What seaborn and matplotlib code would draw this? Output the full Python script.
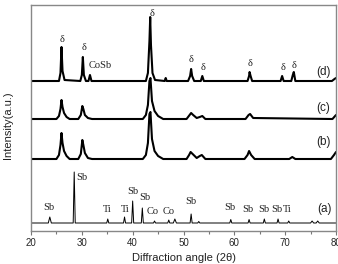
import matplotlib
matplotlib.use("Agg")
import matplotlib.pyplot as plt
from matplotlib.ticker import MultipleLocator
import seaborn as sns
import pandas as pd

# XRD patterns, stacked with offsets (a.u.)
a_x = [20, 23.4, 23.7, 24.0, 28.3, 28.5, 28.7, 34.9, 35.1, 35.3, 38.2, 38.4, 38.6,
       39.8, 40.0, 40.2, 41.7, 41.9, 42.1, 44.1, 44.3, 44.5, 46.9, 47.1, 47.3,
       48.0, 48.3, 48.6, 51.3, 51.5, 51.7, 52.8, 53.0, 53.2, 59.1, 59.3, 59.5,
       62.7, 62.9, 63.1, 65.7, 65.9, 66.1, 68.4, 68.6, 68.8, 70.5, 70.7, 70.9,
       75.0, 75.3, 75.6, 76.1, 76.4, 76.7, 80]
a_y = [8, 8, 14, 8, 8, 59, 8, 8, 12, 8, 8, 14, 8,
       8, 30, 8, 8, 23, 8, 8, 10, 8, 8, 11, 8,
       8, 12, 8, 8, 17, 8, 8, 9.5, 8, 8, 11.5, 8,
       8, 11.5, 8, 8, 12, 8, 8, 12, 8, 8, 10, 8,
       8, 10, 8, 8, 10, 8, 8]

b_x = [20, 25.0, 25.5, 25.8, 26.0, 26.2, 26.5, 27.0, 27.6, 29.3, 29.8, 30.1, 30.3,
       30.6, 31.2, 32.0, 42.0, 42.6, 43.0, 43.3, 43.5, 43.8, 44.3, 45.0, 46.0,
       50.6, 51.1, 51.4, 51.8, 52.6, 53.2, 53.6, 54.3, 62.0, 62.6, 62.9, 63.3,
       64.0, 70.8, 71.4, 72.0, 79.0, 79.6, 80]
b_y = [72, 72, 76, 86, 98, 88, 80, 75, 72, 72, 77, 91, 86,
       78, 73, 72, 72, 76, 88, 117, 119, 92, 80, 75, 72,
       72, 76, 79, 77, 73, 75, 76, 72, 72, 76, 80, 76,
       72, 72, 74, 72, 72, 76, 79]

c_x = [20, 25.0, 25.5, 25.8, 26.0, 26.2, 26.5, 27.0, 27.6, 29.3, 29.8, 30.1, 30.3,
       30.6, 31.2, 32.0, 42.0, 42.6, 43.0, 43.3, 43.5, 43.8, 44.3, 45.0, 46.0,
       50.6, 51.2, 51.5, 51.9, 52.6, 53.2, 53.7, 54.3, 62.2, 62.8, 63.1, 63.7,
       79.3, 80]
c_y = [112, 112, 115, 122, 131, 124, 118, 114, 112, 112, 116, 125, 122,
       116, 113, 112, 112, 116, 126, 150, 153, 130, 120, 115, 112,
       112, 116, 118, 116, 113, 114, 115, 112, 112, 116, 117, 113,
       112, 116]

d_x = [20, 25.5, 25.8, 26.0, 26.2, 26.6, 29.7, 30.0, 30.2, 30.4, 30.8, 31.3, 31.6,
       31.9, 42.6, 43.0, 43.3, 43.45, 43.6, 43.9, 44.4, 46.3, 46.5, 46.7, 50.9,
       51.3, 51.5, 51.7, 52.1, 53.4, 53.7, 54.0, 62.6, 62.9, 63.0, 63.2, 63.5,
       69.1, 69.4, 69.7, 71.2, 71.5, 71.7, 72.0, 79.2, 79.7, 80]
d_y = [150, 150, 158, 184, 160, 151, 150, 156, 174, 156, 150, 150, 156,
       150, 150, 158, 190, 214, 186, 158, 151, 150, 153, 150, 150,
       155, 162, 155, 150, 150, 155, 150, 150, 155, 159, 155, 150,
       150, 155, 150, 150, 156, 159, 150, 150, 152, 153]

# phase labels: (text, 2theta, height)
phase_labels = [("Sb", 23.5, 24), ("Sb", 30.0, 53), ("Ti", 34.95, 21), ("Ti", 38.5, 21),
                ("Sb", 40.1, 40), ("Sb", 42.4, 33), ("Co", 44.0, 19), ("Co", 47.15, 19),
                ("Sb", 51.5, 29), ("Sb", 59.15, 23), ("Sb", 62.7, 22), ("Sb", 65.85, 22),
                ("Sb", 68.4, 22), ("Ti", 70.4, 22),
                ("δ", 26.1, 191), ("δ", 30.4, 184), ("CoSb", 33.6, 165), ("δ", 43.9, 218),
                ("δ", 51.5, 172), ("δ", 53.85, 164), ("δ", 63.1, 168), ("δ", 69.6, 163),
                ("δ", 71.75, 165)]
trace_labels = [("(a)", 77.8, 22), ("(b)", 77.45, 89), ("(c)", 77.45, 123), ("(d)", 77.6, 159)]

frames = []
for name, xs, ys in [("a", a_x, a_y), ("b", b_x, b_y), ("c", c_x, c_y), ("d", d_x, d_y)]:
    frames.append(pd.DataFrame({"two_theta": xs, "intensity": ys, "sample": name}))
df = pd.concat(frames, ignore_index=True)

sns.set_style("white")
plt.rcParams['font.family'] = ['Liberation Sans', 'DejaVu Sans']

fig = plt.figure(figsize=(3.38, 2.64), dpi=100)
ax = fig.add_axes([31 / 338, 33 / 264, 305 / 338, 226 / 264])

widths = {"a": 0.7, "b": 1.5, "c": 1.5, "d": 1.5}
for name, sub in df.groupby("sample"):
    sns.lineplot(data=sub, x="two_theta", y="intensity", ax=ax, color="black",
                 linewidth=widths[name], estimator=None, sort=False)

for txt, x, y in phase_labels:
    ax.text(x, y, txt, ha="center", va="center", fontsize=7.5, color="#222222",
            family=["Liberation Serif", "DejaVu Serif"])
for txt, x, y in trace_labels:
    ax.text(x, y, txt, ha="center", va="center", fontsize=8.5, color="#222222")

ax.set_xlim(20, 80)
ax.set_ylim(0, 226)
ax.xaxis.set_major_locator(MultipleLocator(10))
ax.xaxis.set_minor_locator(MultipleLocator(5))
ax.set_yticks([])
ax.tick_params(axis="x", which="major", direction="out", length=3, width=0.8,
               color="#777777", labelsize=7, pad=2, bottom=True)
ax.tick_params(axis="x", which="minor", direction="out", length=2.5, width=0.8,
               color="#777777", bottom=True)
for sp in ax.spines.values():
    sp.set_color("#888888")
    sp.set_linewidth(1.0)

ax.set_xlabel("Diffraction angle (2θ)", fontsize=8, color="#222222")
ax.set_ylabel("Intensity(a.u.)", fontsize=8, color="#222222")
ax.xaxis.set_label_coords(0.5, -0.097)
ax.yaxis.set_label_coords(-0.058, 0.47)

fig.savefig("out.png", dpi=100)
